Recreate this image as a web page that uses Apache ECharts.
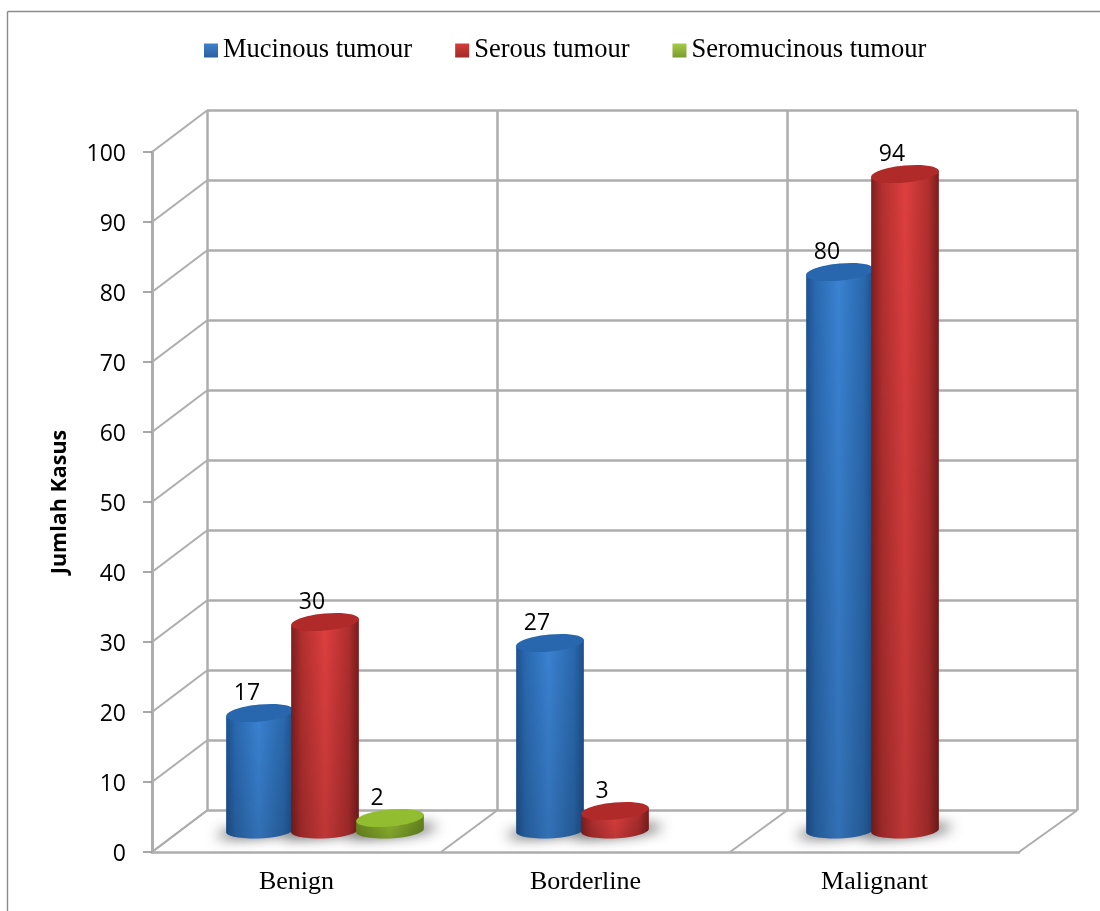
<!DOCTYPE html>
<html>
<head>
<meta charset="utf-8">
<style>html,body{margin:0;padding:0;background:#fff}#chart{width:1100px;height:911px}</style>
<script src="https://cdn.jsdelivr.net/npm/echarts@6/dist/echarts.min.js"></script>
</head>
<body>
<div id="chart"></div>
<script>
// Tumour case counts per behaviour class
const categories = ['Benign', 'Borderline', 'Malignant'];
const mucinous = [17, 27, 80];
const serous = [30, 3, 94];
const seromucinous = [2, null, null];
const yTicks = [0, 10, 20, 30, 40, 50, 60, 70, 80, 90, 100];
const floorEdges = [0, 1, 2, 3];

const SERIF = '"Liberation Serif", "Times New Roman", serif';
const SANS = '"Open Sans", "Noto Sans", sans-serif';
const WALL = '#adadad';
const AXIS = '#8c8c8c';

// Pseudo-3D box: the front plane, the back wall, and the plane the cylinders stand on
const front = { left: 152, top: 152, width: 867, height: 700 };
const back = { left: 207, top: 110.5, width: 870, height: 700 };
const mid = { left: 180, top: 132, width: 870, height: 700 };
const depthX = back.left - front.left;
const depthY = back.top - front.top;

const BAR_STEP = 65 / 290;
const BAR_WIDTH = 68 / 290;
const CAP_TILT = 5.5 * Math.PI / 180;
const BASE_TILT = 3 * Math.PI / 180;
const CAP_RY = 8.5;
const BASE_RY = 8;
const BLUR_SHIFT = 3000;

const grad = (x2, y2, stops) => new echarts.graphic.LinearGradient(0, 0, x2, y2,
  stops.map(([offset, color]) => ({ offset, color })));

const palettes = {
  blue: {
    base: '#2f72bd',
    side: [[0, '#1d5290'], [0.14, '#2a69b0'], [0.48, '#3a82d2'], [0.85, '#2a68ad'], [1, '#1c4f8c']],
    cap: '#2866ad',
    swatch: [[0, '#3f82cc'], [1, '#2b5f9f']]
  },
  red: {
    base: '#c0392f',
    side: [[0, '#7f1e1e'], [0.16, '#b22f2f'], [0.5, '#de3f3f'], [0.85, '#b02e2e'], [1, '#7a1c1c']],
    cap: '#b02a2a',
    swatch: [[0, '#d63c3a'], [1, '#9e2c2a']]
  },
  green: {
    base: '#8db52f',
    side: [[0, '#6b8a1f'], [0.5, '#8fb531'], [1, '#66851d']],
    cap: '#92bd30',
    swatch: [[0, '#a4cc45'], [1, '#7a9a32']]
  }
};

const seriesDefs = [
  { name: 'Mucinous tumour', values: mucinous, slot: -1, palette: palettes.blue },
  { name: 'Serous tumour', values: serous, slot: 0, palette: palettes.red },
  { name: 'Seromucinous tumour', values: seromucinous, slot: 1, palette: palettes.green }
];

const toData = values => values
  .map((v, i) => (v == null ? null : [i, v]))
  .filter(Boolean);

// Soft contact shadow on the floor; the shape sits off-canvas so only its blur shows
function shadowRenderer(slot) {
  return (params, api) => {
    const base = api.coord([api.value(0), 0]);
    const band = api.size([1, 0])[0];
    const cx = base[0] + slot * BAR_STEP * band;
    return {
      type: 'ellipse',
      shape: { cx: 0, cy: 0, rx: band * BAR_WIDTH * 0.66, ry: 5 },
      x: cx + 2 - BLUR_SHIFT, y: base[1] - 1, rotation: CAP_TILT,
      style: {
        fill: '#000', shadowBlur: 13, shadowOffsetX: BLUR_SHIFT,
        shadowColor: 'rgba(40,40,40,0.85)'
      },
      silent: true
    };
  };
}

// One cylinder: side wall, bottom shading, tilted cap and the value above it
function cylinderRenderer(slot, palette) {
  return (params, api) => {
    const value = api.value(1);
    const top = api.coord([api.value(0), value]);
    const base = api.coord([api.value(0), 0]);
    const band = api.size([1, 0])[0];
    const cx = top[0] + slot * BAR_STEP * band;
    const rx = band * BAR_WIDTH / 2;
    const dxTop = rx * Math.cos(CAP_TILT);
    const dyTop = rx * Math.sin(CAP_TILT);
    const dyBase = rx * Math.sin(BASE_TILT);
    const baseDeg = -BASE_TILT * 180 / Math.PI;
    const baseY = base[1] - 1;
    const body = `M ${cx - dxTop} ${top[1] + dyTop} L ${cx - dxTop} ${baseY + dyBase} `
      + `A ${rx} ${BASE_RY} ${baseDeg} 0 0 ${cx + dxTop} ${baseY - dyBase} `
      + `L ${cx + dxTop} ${top[1] - dyTop} Z`;
    return {
      type: 'group',
      children: [
        { type: 'path', shape: { pathData: body }, style: { fill: grad(1, 0, palette.side) } },
        {
          type: 'path', shape: { pathData: body },
          style: { fill: grad(0, 1, [[0, 'rgba(0,0,0,0)'], [1, 'rgba(0,0,0,0.14)']]) }
        },
        {
          type: 'ellipse',
          shape: { cx: 0, cy: 0, rx, ry: CAP_RY },
          x: cx, y: top[1], rotation: CAP_TILT,
          style: { fill: palette.cap }
        },
        {
          type: 'text',
          style: {
            text: String(value), x: cx - 13, y: top[1] - 19.5,
            font: '23px ' + SANS, fill: '#000', align: 'center', verticalAlign: 'middle'
          }
        }
      ]
    };
  };
}

const cylinderSeries = [];
seriesDefs.forEach(def => {
  cylinderSeries.push({
    type: 'custom', xAxisIndex: 2, yAxisIndex: 2, z: 3, silent: true,
    data: toData(def.values), encode: { x: 0, y: 1 },
    renderItem: shadowRenderer(def.slot)
  });
});
seriesDefs.forEach(def => {
  cylinderSeries.push({
    type: 'custom', name: def.name, xAxisIndex: 2, yAxisIndex: 2, z: 4, silent: true,
    itemStyle: { color: def.palette.base },
    data: toData(def.values), encode: { x: 0, y: 1 },
    renderItem: cylinderRenderer(def.slot, def.palette)
  });
});

// Depth lines on the left wall, one per value tick
const wallSeries = {
  type: 'custom', xAxisIndex: 0, yAxisIndex: 0, z: 1, silent: true,
  data: yTicks.map(v => [0, v]), encode: { x: 0, y: 1 },
  renderItem: (params, api) => {
    const p = api.coord([0, api.value(1)]);
    const x = p[0] - api.size([1, 0])[0] / 2;
    return {
      type: 'line',
      shape: { x1: x, y1: p[1], x2: x + depthX, y2: p[1] + depthY },
      style: { stroke: WALL, lineWidth: 2 }
    };
  }
};

// Depth lines across the floor at each category boundary
const floorSeries = {
  type: 'custom', xAxisIndex: 0, yAxisIndex: 0, z: 1, silent: true,
  data: floorEdges.map(i => [i, 0]), encode: { x: 0, y: 1 },
  renderItem: (params, api) => {
    const i = api.value(0);
    const band = api.size([1, 0])[0];
    const p = api.coord([0, 0]);
    const x = p[0] - band / 2 + i * band;
    return {
      type: 'line',
      shape: { x1: x, y1: p[1], x2: x + depthX + i, y2: p[1] + depthY },
      style: { stroke: WALL, lineWidth: 2 }
    };
  }
};

const hiddenAxis = { show: false };

const option = {
  animation: false,
  backgroundColor: '#fff',
  graphic: [
    { type: 'line', silent: true, shape: { x1: 7.5, y1: 11.5, x2: 1100, y2: 11.5 }, style: { stroke: '#8a8a8a', lineWidth: 1.4 } },
    { type: 'line', silent: true, shape: { x1: 7.5, y1: 11.5, x2: 7.5, y2: 911 }, style: { stroke: '#8a8a8a', lineWidth: 1.4 } }
  ],
  legend: {
    left: 199, top: 32, itemWidth: 14, itemHeight: 14, itemGap: 43, icon: 'rect',
    selectedMode: false,
    textStyle: { fontFamily: SERIF, fontSize: 26.5, color: '#000' },
    data: seriesDefs.map(def => ({
      name: def.name,
      itemStyle: { color: grad(0, 1, def.palette.swatch) }
    }))
  },
  grid: [
    { left: front.left, top: front.top, width: front.width, height: front.height },
    { left: back.left, top: back.top, width: back.width, height: back.height },
    { left: mid.left, top: mid.top, width: mid.width, height: mid.height }
  ],
  xAxis: [
    {
      type: 'category', gridIndex: 0, data: categories, boundaryGap: true,
      axisLine: { lineStyle: { color: WALL, width: 2.5 } },
      axisTick: { length: 7, lineStyle: { color: AXIS, width: 1.5 } },
      axisLabel: { margin: 17, fontFamily: SERIF, fontSize: 26, color: '#000' },
      splitLine: hiddenAxis
    },
    {
      type: 'category', gridIndex: 1, data: categories, boundaryGap: true,
      axisLine: hiddenAxis, axisTick: hiddenAxis, axisLabel: hiddenAxis,
      splitLine: { show: true, lineStyle: { color: WALL, width: 2.5 } }
    },
    { type: 'category', gridIndex: 2, data: categories, boundaryGap: true, show: false }
  ],
  yAxis: [
    {
      type: 'value', gridIndex: 0, min: 0, max: 100, interval: 10,
      name: 'Jumlah Kasus', nameLocation: 'middle', nameRotate: 90, nameGap: 81,
      nameTextStyle: { fontFamily: SANS, fontWeight: 'bold', fontSize: 21.5, color: '#000' },
      axisLine: { show: true, lineStyle: { color: WALL, width: 3 } },
      axisTick: { show: true, length: 9, lineStyle: { color: AXIS, width: 1.5 } },
      axisLabel: { margin: 26, fontFamily: SANS, fontSize: 23, color: '#000', verticalAlign: 'top', lineHeight: 5 },
      splitLine: hiddenAxis
    },
    {
      type: 'value', gridIndex: 1, min: 0, max: 100, interval: 10,
      axisLine: hiddenAxis, axisTick: hiddenAxis, axisLabel: hiddenAxis,
      splitLine: { show: true, lineStyle: { color: WALL, width: 2.5 } }
    },
    { type: 'value', gridIndex: 2, min: 0, max: 100, interval: 10, show: false, splitLine: hiddenAxis }
  ],
  series: [wallSeries, floorSeries].concat(cylinderSeries)
};

echarts.init(document.getElementById('chart'), null, { renderer: 'canvas' }).setOption(option);
</script>
</body>
</html>
